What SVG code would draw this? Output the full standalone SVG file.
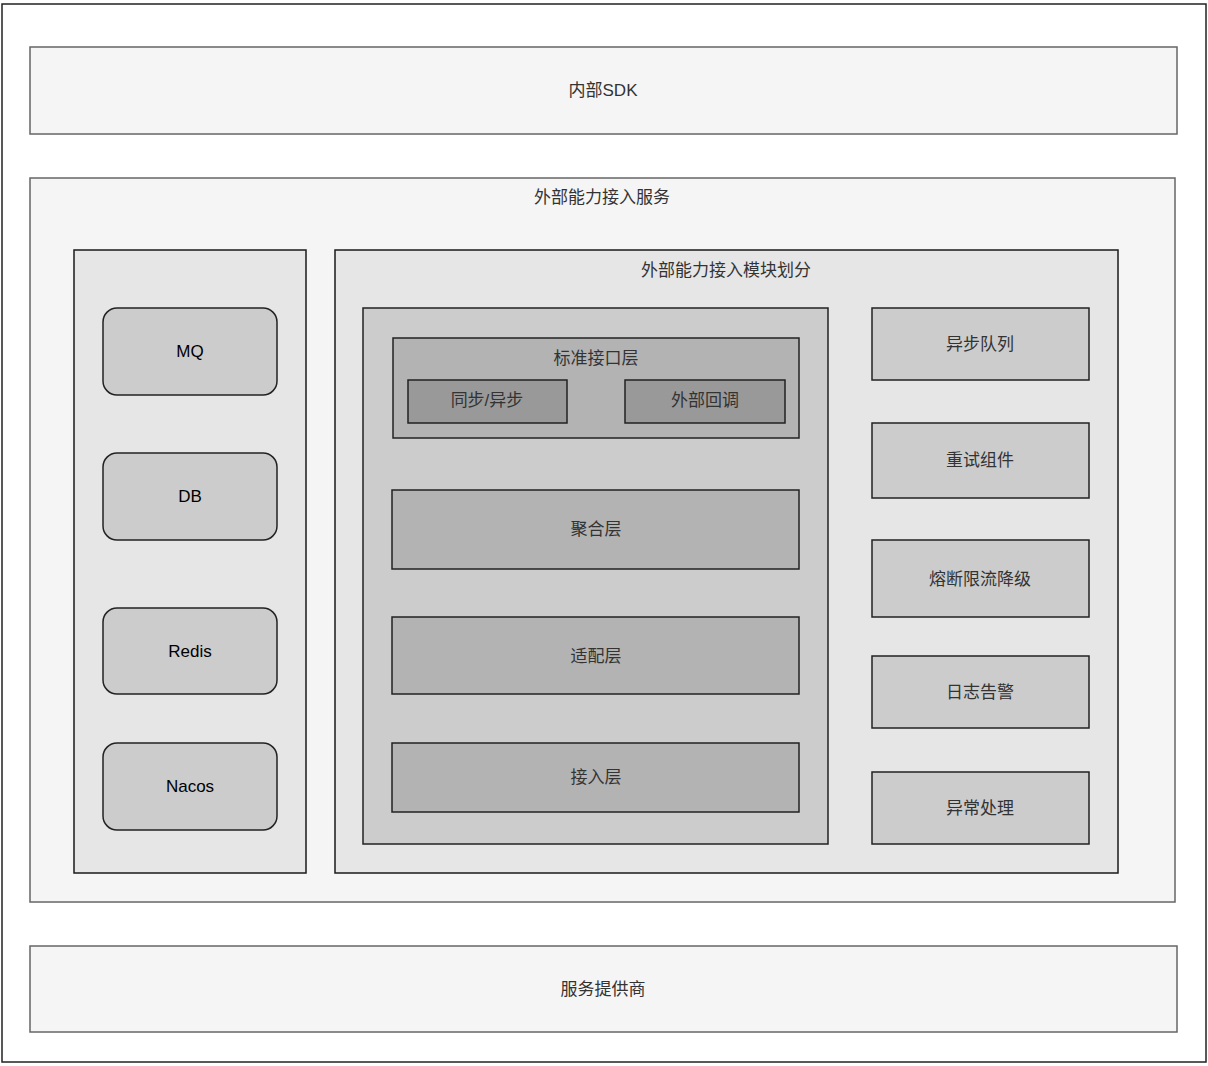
<svg xmlns="http://www.w3.org/2000/svg" width="1208" height="1066" viewBox="0 0 1208 1066">
<style>
text{font-family:"Liberation Sans","Noto Sans CJK SC",sans-serif;font-size:17px;fill:#333;text-anchor:middle;dominant-baseline:central}
.light{fill:#f5f5f5;stroke:#666;stroke-width:1.5}
.panel{fill:#e6e6e6;stroke:#1a1a1a;stroke-width:1.5}
.c{fill:#cccccc;stroke:#222;stroke-width:1.5}
.b{fill:#b3b3b3;stroke:#222;stroke-width:1.5}
.d{fill:#999999;stroke:#222;stroke-width:1.5}
.k{fill:#000}
</style>
<rect x="0" y="0" width="1208" height="1066" fill="#fff"/>
<rect id="frame" x="2" y="4" width="1204" height="1058" fill="#fff" stroke="#222" stroke-width="1.5"/>
<g id="sdk"><rect class="light" x="30" y="47" width="1147" height="87"/><text x="603" y="90">内部SDK</text></g>
<g id="service"><rect class="light" x="30" y="178" width="1145" height="724"/><text x="602" y="197">外部能力接入服务</text></g>
<g id="infra"><rect class="panel" x="74" y="250" width="232" height="623"/></g>
<g id="mq"><rect class="c" x="103" y="308" width="174" height="87" rx="14"/><text class="k" x="190" y="351">MQ</text></g>
<g id="db"><rect class="c" x="103" y="453" width="174" height="87" rx="14"/><text class="k" x="190" y="496">DB</text></g>
<g id="redis"><rect class="c" x="103" y="608" width="174" height="86" rx="14"/><text class="k" x="190" y="651">Redis</text></g>
<g id="nacos"><rect class="c" x="103" y="743" width="174" height="87" rx="14"/><text class="k" x="190" y="786">Nacos</text></g>
<g id="module"><rect class="panel" x="335" y="250" width="783" height="623"/><text x="726" y="270">外部能力接入模块划分</text></g>
<g id="layers"><rect class="c" x="363" y="308" width="465" height="536"/></g>
<g id="std"><rect class="b" x="393" y="338" width="406" height="100"/><text x="596" y="358">标准接口层</text></g>
<g id="sync"><rect class="d" x="408" y="380" width="159" height="43"/><text x="487" y="400">同步/异步</text></g>
<g id="callback"><rect class="d" x="625" y="380" width="160" height="43"/><text x="705" y="400">外部回调</text></g>
<g id="agg"><rect class="b" x="392" y="490" width="407" height="79"/><text x="596" y="529">聚合层</text></g>
<g id="adapt"><rect class="b" x="392" y="617" width="407" height="77"/><text x="596" y="656">适配层</text></g>
<g id="access"><rect class="b" x="392" y="743" width="407" height="69"/><text x="596" y="777">接入层</text></g>
<g id="queue"><rect class="c" x="872" y="308" width="217" height="72"/><text x="980" y="344">异步队列</text></g>
<g id="retry"><rect class="c" x="872" y="423" width="217" height="75"/><text x="980" y="460">重试组件</text></g>
<g id="breaker"><rect class="c" x="872" y="540" width="217" height="77"/><text x="980" y="579">熔断限流降级</text></g>
<g id="log"><rect class="c" x="872" y="656" width="217" height="72"/><text x="980" y="692">日志告警</text></g>
<g id="error"><rect class="c" x="872" y="772" width="217" height="72"/><text x="980" y="808">异常处理</text></g>
<g id="provider"><rect class="light" x="30" y="946" width="1147" height="86"/><text x="603" y="989">服务提供商</text></g>
<g id="connectors"></g>
</svg>
